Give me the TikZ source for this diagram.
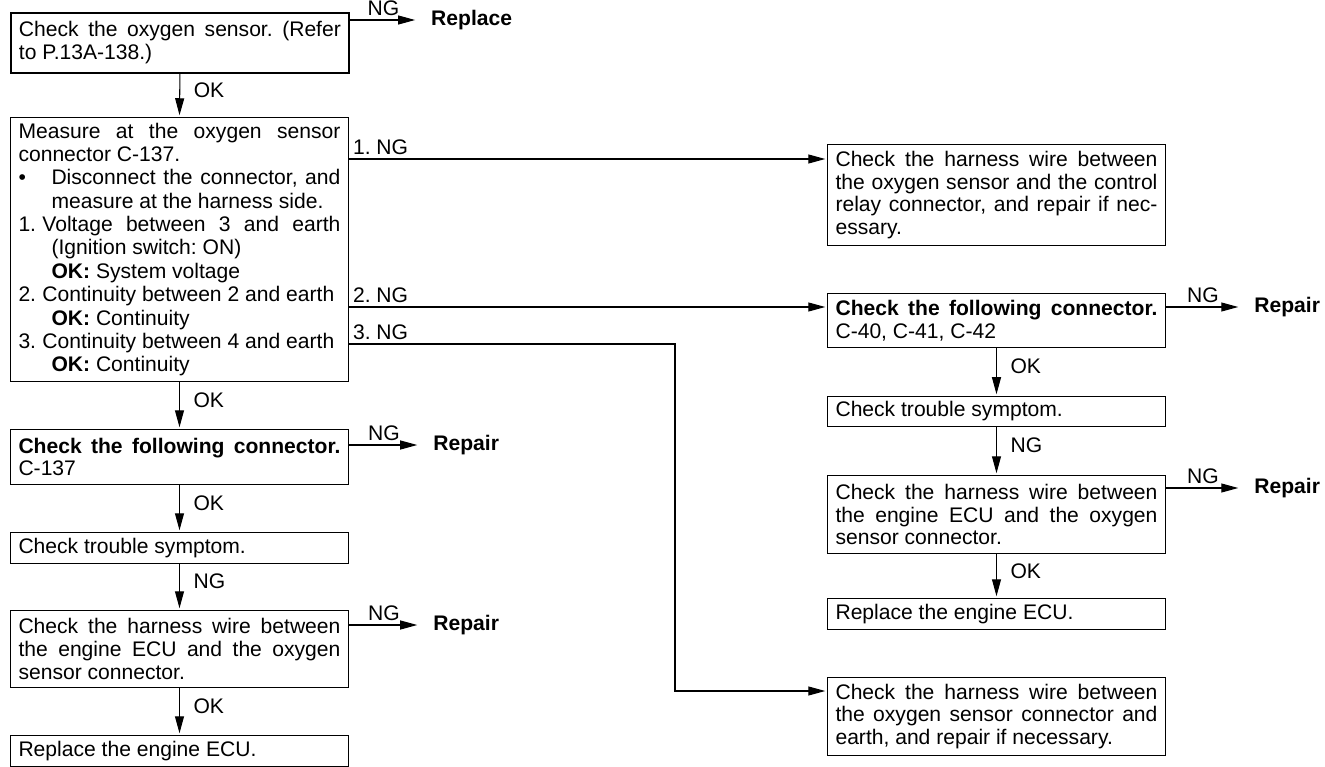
\documentclass[tikz,border=0pt]{standalone}
\usepackage{fontspec}
\setmainfont{Liberation Sans}
\usetikzlibrary{arrows.meta, calc}
\setlength{\parindent}{0pt}
\tolerance=9999
\hyphenpenalty=10000
\frenchspacing

\begin{document}
\fontsize{12}{13}\selectfont
\begin{tikzpicture}[x=0.02cm, y=-0.02cm,
    box/.style={draw, rectangle, anchor=north west, text width=6.44cm, align=justify,
                inner xsep=0.16cm, inner ysep=0pt, line width=0.6pt},
    flow/.style={line width=0.6pt, -{Triangle[length=3.4mm, width=1.8mm]}, shorten >=1pt},
    tag/.style={inner sep=2pt},
    vtag/.style={tag, pos=0.38, anchor=west, xshift=0.2cm},
    act/.style={font=\bfseries, anchor=west, inner xsep=0.28cm, inner ysep=0pt}]
    \useasboundingbox (0,0) rectangle (1325,767);

    % left column
    \node[box, line width=1.1pt, minimum height=1.2cm] (sensor) at (10,12)
        {Check the oxygen sensor. (Refer\linebreak to P.13A-138.)};
    \node[box, minimum height=5.28cm, font=\fontsize{12}{13.3}\selectfont] (measure) at (10,117) {%
        Measure at the oxygen sensor\linebreak connector C-137.\par
        \hangindent=0.66cm\hangafter=1
        \makebox[0.66cm][l]{\textbullet}Disconnect the connector, and\linebreak measure at the harness side.\par
        \hangindent=0.66cm\hangafter=1
        1.\hspace{0.3em}Voltage between 3 and earth\linebreak (Ignition switch: ON)\newline \textbf{OK:} System voltage\par
        \hangindent=0.66cm\hangafter=1
        2.\hspace{0.3em}Continuity between 2 and earth\newline \textbf{OK:} Continuity\par
        \hangindent=0.66cm\hangafter=1
        3.\hspace{0.3em}Continuity between 4 and earth\newline \textbf{OK:} Continuity\par};
    \node[box, minimum height=1.1cm] (connA) at (10,429)
        {\textbf{Check the following connector.}\linebreak C-137};
    \node[box, minimum height=0.62cm] (symptomA) at (10,532) {Check trouble symptom.};
    \node[box, minimum height=1.54cm] (ecuwireA) at (10,610)
        {Check the harness wire between\linebreak the engine ECU and the oxygen\linebreak sensor connector.};
    \node[box, minimum height=0.62cm] (ecuA) at (10,735) {Replace the engine ECU.};

    % right column
    \node[box, minimum height=2.02cm] (relay) at (827,144)
        {Check the harness wire between\linebreak the oxygen sensor and the control\linebreak relay connector, and repair if nec-\linebreak essary.};
    \node[box, minimum height=1.08cm] (connB) at (827,293)
        {\textbf{Check the following connector.}\linebreak C-40, C-41, C-42};
    \node[box, minimum height=0.6cm] (symptomB) at (827,396) {Check trouble symptom.};
    \node[box, minimum height=1.56cm] (ecuwireB) at (827,475)
        {Check the harness wire between\linebreak the engine ECU and the oxygen\linebreak sensor connector.};
    \node[box, minimum height=0.62cm] (ecuB) at (827,598) {Replace the engine ECU.};
    \node[box, minimum height=1.56cm] (earthwire) at (827,677)
        {Check the harness wire between\linebreak the oxygen sensor connector and\linebreak earth, and repair if necessary.};

    % actions on NG
    \node[act] (replace) at ($(sensor.north east)+(67,8)$) {Replace};
    \node[act] (repA) at ($(connA.north east)+(70,16)$) {Repair};
    \node[act] (repB) at ($(ecuwireA.north east)+(70,15)$) {Repair};
    \node[act] (repC) at ($(connB.north east)+(74,14)$) {Repair};
    \node[act] (repD) at ($(ecuwireB.north east)+(74,13)$) {Repair};

    % down the left column
    \draw[flow] (sensor.south) -- node[vtag] {OK} (measure.north);
    \draw[flow] (measure.south) -- node[vtag] {OK} (connA.north);
    \draw[flow] (connA.south) -- node[vtag] {OK} (symptomA.north);
    \draw[flow] (symptomA.south) -- node[vtag] {NG} (ecuwireA.north);
    \draw[flow] (ecuwireA.south) -- node[vtag] {OK} (ecuA.north);

    % down the right column
    \draw[flow] (connB.south) -- node[vtag] {OK} (symptomB.north);
    \draw[flow] (symptomB.south) -- node[vtag] {NG} (ecuwireB.north);
    \draw[flow] (ecuwireB.south) -- node[vtag] {OK} (ecuB.north);

    % NG exits
    \draw[flow] ($(sensor.north east)+(0,8)$) -- node[tag, midway, above] {NG} (replace.west);
    \draw[flow] ($(connA.north east)+(0,16)$) -- node[tag, midway, above] {NG} (repA.west);
    \draw[flow] ($(ecuwireA.north east)+(0,15)$) -- node[tag, midway, above] {NG} (repB.west);
    \draw[flow] ($(connB.north east)+(0,14)$) -- node[tag, midway, above] {NG} (repC.west);
    \draw[flow] ($(ecuwireB.north east)+(0,13)$) -- node[tag, midway, above] {NG} (repD.west);

    % branches out of the measurement
    \draw[flow] ($(measure.north east)+(0,42)$) coordinate (ng1)
        -- node[tag, pos=0, anchor=south west] {1. NG} (ng1 -| relay.west);
    \draw[flow] ($(measure.north east)+(0,190)$) coordinate (ng2)
        -- node[tag, pos=0, anchor=south west] {2. NG} (ng2 -| connB.west);
    \coordinate (bend) at (675,344);
    \draw[flow] ($(measure.north east)+(0,227)$)
        -- node[tag, pos=0, anchor=south west] {3. NG} (bend)
        |- ($(earthwire.north west)+(0,14)$);
\end{tikzpicture}
\end{document}
